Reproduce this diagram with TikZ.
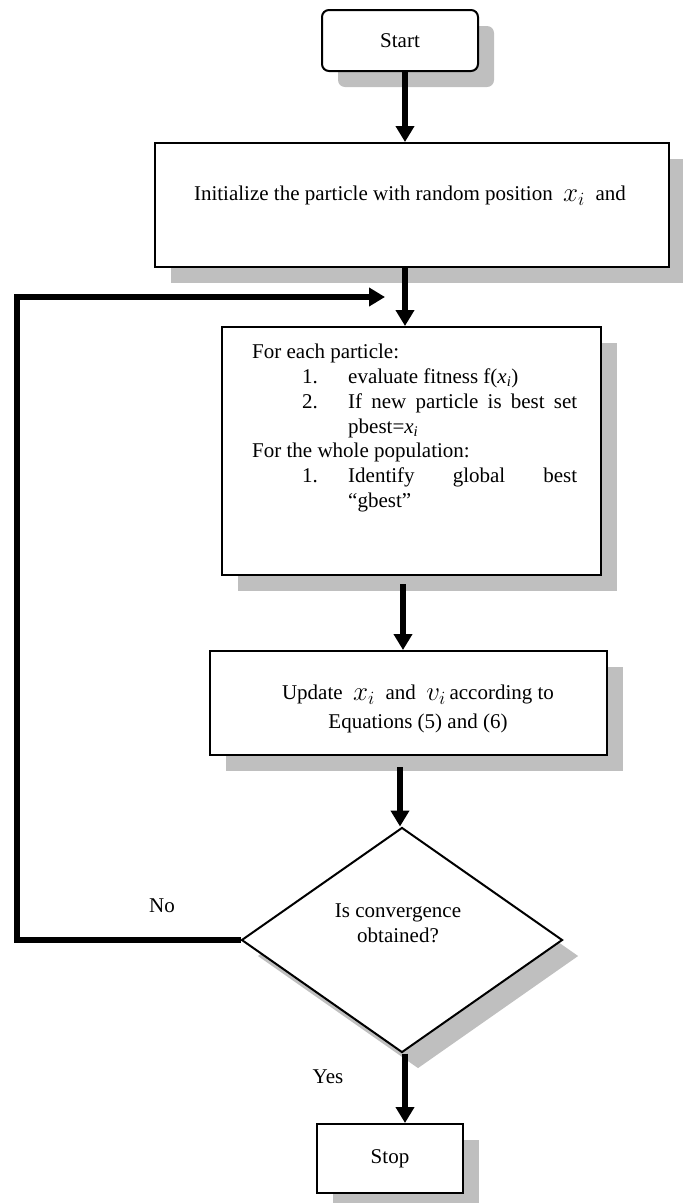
\documentclass[tikz,border=0pt]{standalone}
\usepackage{fontspec}
\setmainfont{Liberation Serif}
\usetikzlibrary{arrows.meta,shapes.geometric,shadows}
\newcommand{\bigvar}[1]{\raisebox{-1pt}{\scalebox{1.3}{$#1_i$}}}

\begin{document}
\begin{tikzpicture}[x=1pt,y=-1pt,
  every node/.style={font=\fontsize{21}{24.8}\selectfont},
  boxshadow/.style={drop shadow={shadow xshift=16pt,shadow yshift=-16pt,fill=black!25,opacity=1}},
  procbox/.style={draw,line width=2pt,fill=white,boxshadow,inner sep=0pt},
  decbox/.style={diamond,draw,line width=2pt,fill=white,boxshadow,inner sep=0pt},
  flow/.style={line width=6pt,-{Triangle[width=18pt,length=16pt]}}]
  \useasboundingbox (0,0) rectangle (683,1203);

  % boxes
  \node[procbox,rounded corners=7pt,minimum width=156pt,minimum height=61pt] (start) at (400,40.5) {Start};
  \node[procbox,minimum width=514pt,minimum height=124pt] (init) at (412,205) {};
  \node (inittxt) at (410,196) {Initialize the particle with random position \ \bigvar{x} \ and};
  \node[procbox,minimum width=379pt,minimum height=248pt] (eval) at (411.5,451) {};
  \node[anchor=north west,align=left,inner sep=0pt] (evaltxt) at (252,344) {For each particle:\\
    \hspace*{50pt}\makebox[46pt][l]{1.}evaluate fitness f(\textit{x}\textsubscript{\textit{i}})\\
    \hspace*{50pt}\makebox[46pt][l]{2.}\makebox[229pt][s]{If new particle is best set}\\
    \hspace*{96pt}pbest=\textit{x}\textsubscript{\textit{i}}\\
    For the whole population:\\
    \hspace*{50pt}\makebox[46pt][l]{1.}\makebox[229pt][s]{Identify global best}\\
    \hspace*{96pt}``gbest''};
  \node[procbox,minimum width=397pt,minimum height=104pt] (update) at (408.5,703) {};
  \node[align=center] (updatetxt) at (418,709) {Update \ \bigvar{x} \ and \ \bigvar{v}\,according to\\[5pt]Equations (5) and (6)};
  \node[decbox,minimum width=321pt,minimum height=225pt] (conv) at (402,940) {};
  \node[align=center] (convtxt) at (398,923) {Is convergence\\obtained?};
  \node[procbox,minimum width=146pt,minimum height=69pt] (stop) at (390,1158.5) {Stop};

  % labels
  \node (no) at (162,906) {No};
  \node (yes) at (328,1077) {Yes};

  % connectors
  \coordinate (loopleft) at (17,940);
  \coordinate (loopin) at (385,297);
  \draw[flow] ([xshift=5pt]start.south) -- ([xshift=5pt]start.south |- init.north);
  \draw[flow] ([xshift=-7pt]init.south) -- ([xshift=-7pt]init.south |- eval.north);
  \draw[flow] ([xshift=-8.5pt,yshift=-8pt]eval.south) -- ([xshift=-8.5pt]eval.south |- update.north);
  \draw[flow] ([xshift=-8.5pt,yshift=-11pt]update.south) -- ([xshift=-8.5pt]update.south |- conv.north);
  \draw[flow] ([xshift=3pt]conv.south) -- ([xshift=3pt]conv.south |- stop.north);
  \draw[flow] (conv.west) -- (loopleft) |- (loopin);
\end{tikzpicture}
\end{document}
